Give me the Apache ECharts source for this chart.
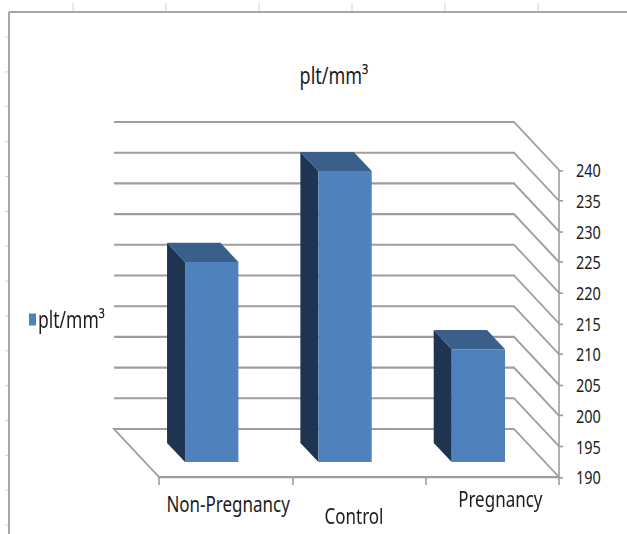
<!DOCTYPE html>
<html>
<head>
<meta charset="utf-8">
<script src="https://cdn.jsdelivr.net/npm/echarts@6/dist/echarts.min.js"></script>
<style>
  html, body { margin: 0; padding: 0; background: #ffffff; overflow: hidden; }
  #wrap { width: 627px; height: 534px; overflow: hidden; }
  /* the chart is laid out in a shorter box and stretched tall */
  #chart { width: 627px; transform-origin: 0 0; }
</style>
</head>
<body>
<div id="wrap"><div id="chart"></div></div>
<script>
// Platelet counts per group
const categories = ['Non-Pregnancy', 'Control', 'Pregnancy'];
const plateletValues = [222.6, 237.4, 208.4];
const seriesName = 'plt/mm³';

// Value axis
const axisMin = 190;
const axisMax = 240;
const axisStep = 5;
const valueTicks = [190, 195, 200, 205, 210, 215, 220, 225, 230, 235, 240];

// Vertical stretch of the whole drawing
const STRETCH = 1.3;
const PAGE_H = 534;
const H = PAGE_H / STRETCH;
const sy = function (y) { return y / STRETCH; };

const el = document.getElementById('chart');
el.style.height = H + 'px';
el.style.transform = 'scaleY(' + STRETCH + ')';

// Oblique depth of the 3D box (front plane -> back wall)
const DX = -45;
const DY = sy(-48);
const BAR_FRONT = 0.31;   // bar front face, fraction of depth
const BAR_DEPTH = 0.40;   // bar depth, fraction of depth
const BAR_WIDTH = 0.40;   // bar width, fraction of category band

const FONT = '"Noto Sans", "Open Sans", sans-serif';
const TEXT_COLOR = '#1c1c1c';
const GRID_COLOR = '#9e9e9e';

// Back wall, side wall and floor lines for each value tick
function renderWall(params, api) {
  const cs = params.coordSys;
  const v = api.value(1);
  const y = api.coord([0, v])[1];
  const left = cs.x;
  const right = cs.x + cs.width;
  const pts = [];
  if (v === axisMin) pts.push([left, y]);
  pts.push([left + DX, y + DY], [right + DX, y + DY], [right, y]);
  return {
    type: 'polyline',
    shape: { points: pts },
    style: { stroke: GRID_COLOR, lineWidth: 1.6, fill: null }
  };
}

// A column drawn as a box: dark left side, top face, lighter front face
function renderBar(params, api) {
  const i = api.value(0);
  const v = api.value(1);
  const base = api.coord([i, axisMin]);
  const top = api.coord([i, v]);
  const band = api.size([1, 0])[0];
  const w = band * BAR_WIDTH;
  const fx = DX * BAR_FRONT, fy = DY * BAR_FRONT;
  const bx = DX * BAR_DEPTH, by = DY * BAR_DEPTH;
  const x0 = base[0] - w / 2 + fx;
  const x1 = x0 + w;
  const yb = base[1] + fy;
  const yt = top[1] + fy;
  return {
    type: 'group',
    children: [
      { type: 'polygon', shape: { points: [[x0, yb], [x0, yt], [x0 + bx, yt + by], [x0 + bx, yb + by]] },
        style: { fill: '#1F3450' } },
      { type: 'polygon', shape: { points: [[x0, yt], [x1, yt], [x1 + bx, yt + by], [x0 + bx, yt + by]] },
        style: { fill: '#3A5F8B' } },
      { type: 'rect', shape: { x: x0, y: yt, width: w, height: yb - yt },
        style: { fill: '#4F81BD' } }
    ]
  };
}

// Sheet frame decorations around the chart object
const frame = [];
frame.push({ type: 'line', shape: { x1: 9, y1: sy(12), x2: 627, y2: sy(12) }, style: { stroke: '#a6a6a6', lineWidth: 1.6 } });
frame.push({ type: 'line', shape: { x1: 9, y1: sy(12), x2: 9, y2: H }, style: { stroke: '#a6a6a6', lineWidth: 2 } });
[73, 166, 259, 352, 445, 538].forEach(function (x) {
  frame.push({ type: 'line', shape: { x1: x, y1: sy(3), x2: x, y2: sy(11) }, style: { stroke: '#d4d4d4', lineWidth: 1 } });
});
for (let k = 0; k < 15; k++) {
  const y = sy(37 + k * 34.86);
  frame.push({ type: 'line', shape: { x1: 5, y1: y, x2: 8, y2: y }, style: { stroke: '#d4d4d4', lineWidth: 0.8 } });
}

const labelRich = {
  c0: { fontFamily: FONT, fontSize: 17, color: TEXT_COLOR, padding: [4, 0, 0, 5] },
  c1: { fontFamily: FONT, fontSize: 17, color: TEXT_COLOR, padding: [13, 10, 0, 0] },
  c2: { fontFamily: FONT, fontSize: 17, color: TEXT_COLOR, padding: [0, 0, 0, 16] }
};

const chart = echarts.init(el, null, { renderer: 'svg', width: 627, height: H });
chart.setOption({
  backgroundColor: '#ffffff',
  animation: false,
  title: {
    text: seriesName,
    left: 329,
    top: sy(57),
    textAlign: 'center',
    textStyle: { fontFamily: FONT, fontSize: 18, fontWeight: 'normal', color: TEXT_COLOR }
  },
  legend: {
    data: [{ name: seriesName, icon: 'rect' }],
    orient: 'vertical',
    left: 24,
    top: sy(313) - 9,
    itemWidth: 7,
    itemHeight: sy(12),
    textStyle: { fontFamily: FONT, fontSize: 17.5, color: TEXT_COLOR, padding: [0, 0, 0, -3] }
  },
  graphic: frame,
  grid: { left: 159, right: 68, top: sy(170), bottom: H - sy(477), containLabel: false },
  xAxis: {
    type: 'category',
    data: categories,
    boundaryGap: true,
    axisLine: { show: true, lineStyle: { color: GRID_COLOR, width: 1.6 } },
    axisTick: { show: true, length: sy(8), alignWithLabel: false, interval: 0, lineStyle: { color: GRID_COLOR, width: 1.6 } },
    axisLabel: {
      interval: 0,
      margin: 8,
      formatter: function (val, idx) { return '{c' + idx + '|' + val + '}'; },
      rich: labelRich
    },
    splitLine: { show: false }
  },
  yAxis: {
    type: 'value',
    position: 'right',
    min: axisMin,
    max: axisMax,
    interval: axisStep,
    axisLine: { show: true, lineStyle: { color: GRID_COLOR, width: 1.6 } },
    axisTick: { show: true, length: 4, lineStyle: { color: GRID_COLOR, width: 1.3 } },
    axisLabel: {
      margin: 17,
      fontFamily: FONT,
      fontSize: 14.5,
      color: TEXT_COLOR,
      formatter: function (v) { return valueTicks.indexOf(v) >= 0 ? String(v) : ''; }
    },
    splitLine: { show: false }
  },
  series: [
    {
      name: 'walls',
      type: 'custom',
      clip: false,
      z: 1,
      silent: true,
      renderItem: renderWall,
      encode: { x: 0, y: 1 },
      data: valueTicks.map(function (v) { return [0, v]; })
    },
    {
      name: seriesName,
      type: 'custom',
      clip: false,
      z: 3,
      itemStyle: { color: '#4F81BD' },
      renderItem: renderBar,
      encode: { x: 0, y: 1 },
      data: plateletValues.map(function (v, i) { return [i, v]; })
    }
  ]
});
</script>
</body>
</html>
